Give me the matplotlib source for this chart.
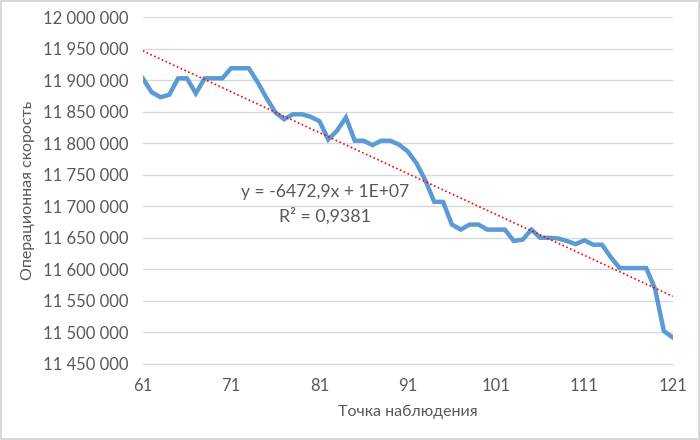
import numpy as np
import matplotlib.pyplot as plt
from matplotlib.ticker import FuncFormatter

x_points = list(range(61, 122))
speed = [
    11903000, 11881000, 11873000, 11877000, 11903000, 11903000, 11879000, 11903000,
    11903000, 11903000, 11919000, 11919000, 11919000, 11897000, 11872000, 11849000,
    11838000, 11846000, 11846000, 11842000, 11835000, 11806000, 11820000, 11841000,
    11804000, 11804000, 11797000, 11804000, 11804000, 11798000, 11787000, 11768000,
    11741000, 11707000, 11707000, 11671000, 11663000, 11671000, 11671000, 11663000,
    11663000, 11663000, 11645000, 11647000, 11663000, 11650000, 11650000, 11649000,
    11645000, 11640000, 11646000, 11639000, 11639000, 11619000, 11602000, 11602000,
    11602000, 11602000, 11569000, 11502000, 11492000,
]
x_ticks = [61, 71, 81, 91, 101, 111, 121]
eq_text = "y = -6472,9x + 1E+07"
r2_text = "R² = 0,9381"

plt.rcParams['font.family'] = ['Lato', 'DejaVu Sans']
grey = '#595959'

fig = plt.figure(figsize=(7, 4.4), dpi=100)
fig.patch.set_edgecolor('#d9d9d9')
fig.patch.set_linewidth(1.5)
ax = fig.add_axes([0.204, 0.173, 0.757, 0.788])

xs = np.array(x_points)
ys = np.array(speed)
ax.plot(xs, ys, color='#5B9BD5', lw=3.2, solid_joinstyle='miter', zorder=3)

# linear trend
k, b = np.polyfit(xs, ys, 1)
ax.plot(xs, k * xs + b, color='#FF0000', lw=1.2, ls=(0, (1, 1.5)), zorder=4)

ax.text(81.6, 11722000, eq_text, ha='center', va='center', fontsize=12.6, color=grey)
ax.text(81.6, 11685000, r2_text, ha='center', va='center', fontsize=12.8, color=grey)

ax.set_xlim(61, 121)
ax.set_ylim(11450000, 12000000)
ax.set_xticks(x_ticks)
ax.set_yticks(np.arange(11450000, 12000001, 50000))
ax.yaxis.set_major_formatter(FuncFormatter(lambda v, p: f"{int(round(v)):,}".replace(',', ' ')))
ax.grid(axis='y', color='#d9d9d9', lw=1)
ax.set_axisbelow(True)
for s in ['top', 'right', 'left']:
    ax.spines[s].set_visible(False)
ax.spines['bottom'].set_color('#d9d9d9')
ax.tick_params(length=0, labelsize=12, labelcolor=grey, pad=10)

ax.set_xlabel('Точка наблюдения', fontsize=11.5, color=grey, labelpad=8)
ax.set_ylabel('Операционная скорость', fontsize=11.5, color=grey, labelpad=6)

fig.savefig('out.png', dpi=100)
